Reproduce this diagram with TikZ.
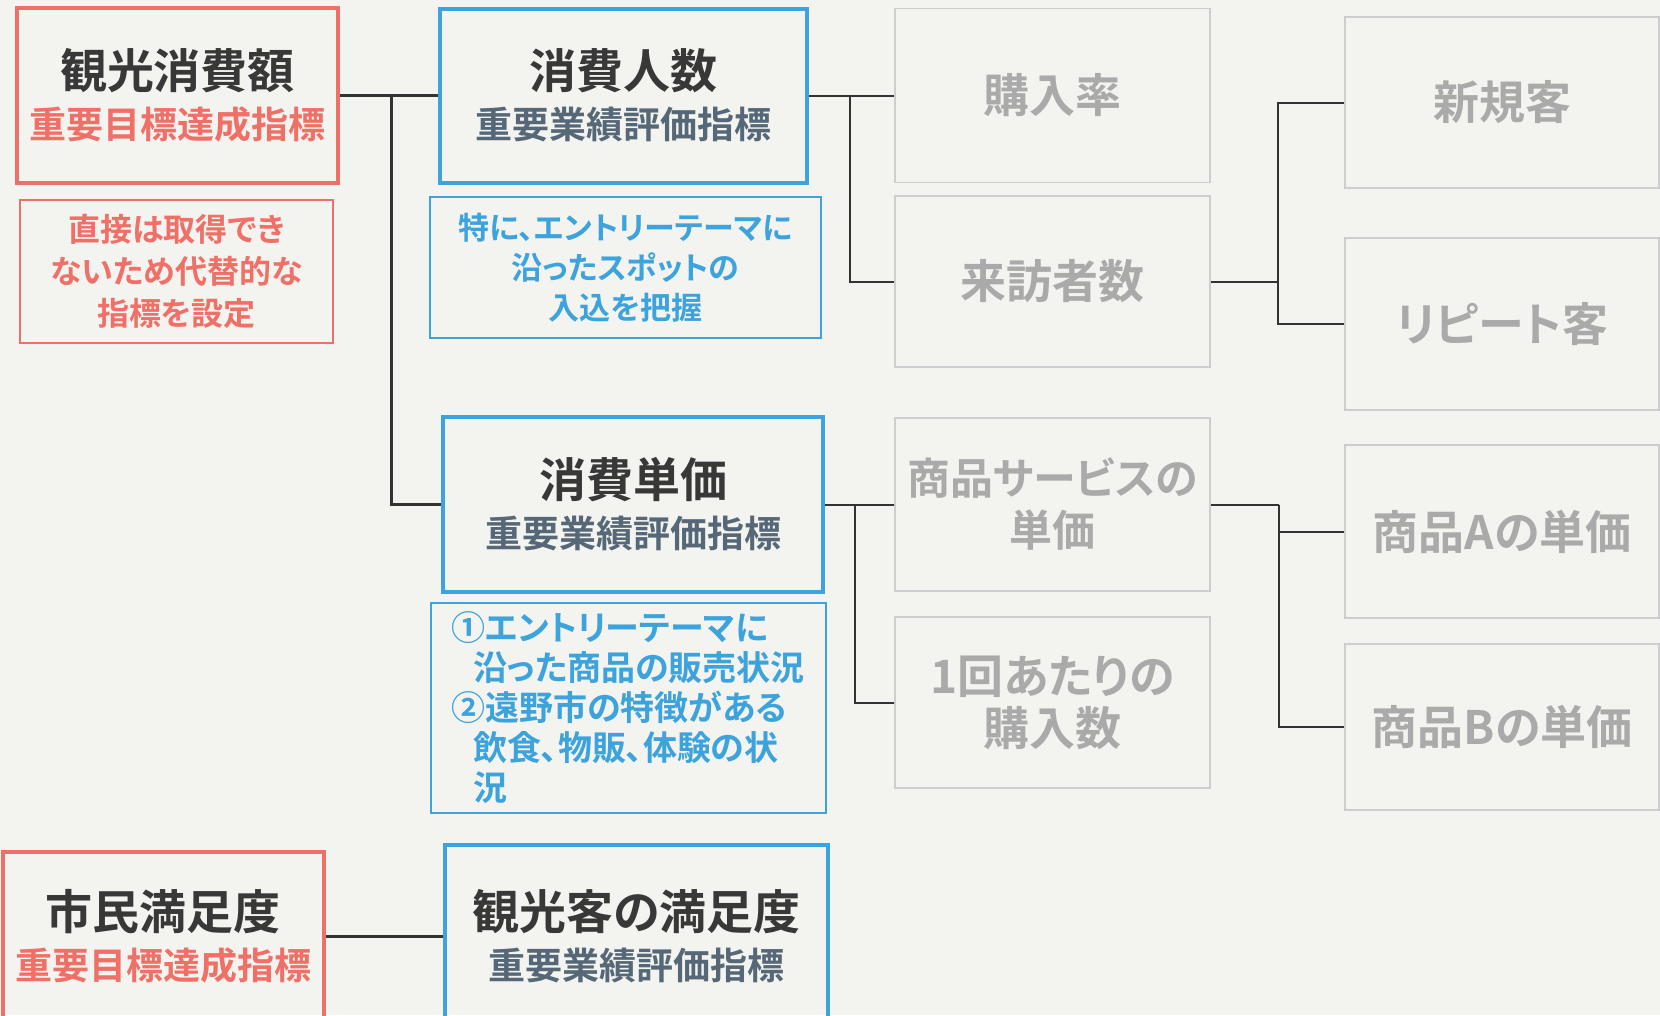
\documentclass[tikz,border=0pt]{standalone}
\usepackage{fontspec}
\setmainfont{Noto Sans CJK JP}[RawFeature={+palt}, BoldFont={Noto Sans CJK JP Bold}]
\newfontfamily\heavy{Noto Sans CJK JP Black}[RawFeature={+palt}]
\definecolor{bg}{HTML}{F3F3EF}
\definecolor{redc}{HTML}{F07068}
\definecolor{bluec}{HTML}{3CA3DC}
\definecolor{darktxt}{HTML}{383838}
\definecolor{subtxt}{HTML}{566878}
\definecolor{grayline}{HTML}{CDCDCD}
\definecolor{graytxt}{HTML}{AAAAAA}
\definecolor{conn}{HTML}{333333}
\newcommand{\ttl}[1]{{\heavy\color{darktxt}\fontsize{47}{50}\selectfont #1}}
\newcommand{\rsub}[1]{{\heavy\color{redc}\fontsize{37}{50}\selectfont #1}}
\newcommand{\bsub}[1]{{\heavy\color{subtxt}\fontsize{37}{50}\selectfont #1}}
\tikzset{
  box/.style={rectangle, inner sep=0pt, align=center},
  redmain/.style={box, draw=redc, line width=4pt, font=\bfseries\fontsize{37}{50}\selectfont},
  bluemain/.style={box, draw=bluec, line width=4pt, font=\bfseries\fontsize{37}{50}\selectfont},
  redsub/.style={box, draw=redc, line width=2pt, text=redc, font=\bfseries\fontsize{32}{42}\selectfont},
  bluesub/.style={box, draw=bluec, line width=2pt, text=bluec, font=\bfseries\fontsize{31}{40}\selectfont},
  graybox/.style={box, draw=grayline, line width=1.5pt, text=graytxt, font=\bfseries\fontsize{46}{52}\selectfont},
  link/.style={draw=conn, line width=3pt},
  thinlink/.style={draw=conn, line width=2pt}
}
\begin{document}
\begin{tikzpicture}[x=1pt,y=-1pt]
\fill[bg] (0,0) rectangle (1660,1015);
\useasboundingbox (0,0) rectangle (1660,1015);
% left column
\node[redmain, minimum width=321, minimum height=175] (kanko) at (177.5,95.5) {\ttl{観光消費額}\\\rsub{重要目標達成指標}};
\node[redsub, minimum width=313, minimum height=143] (note1) at (176.5,271.5) {直接は取得でき\\ないため代替的な\\指標を設定};
\node[redmain, minimum width=321, minimum height=169] (shimin) at (163.5,936.5) {\ttl{市民満足度}\\\rsub{重要目標達成指標}};
% second column
\node[bluemain, minimum width=367, minimum height=174] (ninzu) at (623.5,95.5) {\ttl{消費人数}\\\bsub{重要業績評価指標}};
\node[bluesub, minimum width=391, minimum height=141] (note2) at (625.5,267.5) {特に、エントリーテーマに\\沿ったスポットの\\入込を把握};
\node[bluemain, minimum width=380, minimum height=175] (tanka) at (633,504.5) {\ttl{消費単価}\\\bsub{重要業績評価指標}};
\node[bluesub, align=left, text width=355pt, font=\bfseries\fontsize{34}{40}\selectfont, minimum width=395, minimum height=210] (note3) at (628.5,708) {①エントリーテーマに\\\hspace*{22pt}沿った商品の販売状況\\②遠野市の特徴がある\\\hspace*{22pt}飲食、物販、体験の状\\\hspace*{22pt}況};
\node[bluemain, minimum width=383, minimum height=183] (kyaku) at (636.5,936.5) {\ttl{観光客の満足度}\\\bsub{重要業績評価指標}};
% third column
\node[graybox, minimum width=315, minimum height=174] (konyu) at (1052.5,95.5) {購入率};
\node[graybox, minimum width=315, minimum height=171] (raiho) at (1052.5,281.5) {来訪者数};
\node[graybox, font=\bfseries\fontsize{43}{52}\selectfont, minimum width=315, minimum height=173] (shohin) at (1052.5,504.5) {商品サービスの\\単価};
\node[graybox, minimum width=315, minimum height=171] (kaisu) at (1052.5,702.5) {1回あたりの\\購入数};
% fourth column
\node[graybox, minimum width=314, minimum height=171] (shinki) at (1502,102.5) {新規客};
\node[graybox, minimum width=314, minimum height=172] (repeat) at (1502,324) {リピート客};
\node[graybox, minimum width=314, minimum height=173] (shohinA) at (1502,531.5) {商品Aの単価};
\node[graybox, minimum width=314, minimum height=166] (shohinB) at (1502,727) {商品Bの単価};
% connectors
\coordinate (j1) at (391,95.5);
\draw[link] (kanko.east) -- (ninzu.west);
\draw[link] (j1) |- (tanka.west);
\draw[link] (shimin.east) -- (kyaku.west);
\coordinate (j2) at (850,95.5);
\draw[thinlink] (ninzu.east) -- (konyu.west);
\draw[thinlink] (j2) |- (raiho.west);
\coordinate (j3) at (1278,281.5);
\draw[thinlink] (raiho.east) -- (j3);
\draw[thinlink] (j3) |- (shinki.west);
\draw[thinlink] (j3) |- (repeat.west);
\coordinate (j4) at (855,504.5);
\draw[thinlink] (tanka.east) -- (shohin.west);
\draw[thinlink] (j4) |- (kaisu.west);
\coordinate (j5) at (1279,504.5);
\draw[thinlink] (shohin.east) -- (j5);
\draw[thinlink] (j5) |- (shohinA.west);
\draw[thinlink] (j5) |- (shohinB.west);
\end{tikzpicture}
\end{document}
